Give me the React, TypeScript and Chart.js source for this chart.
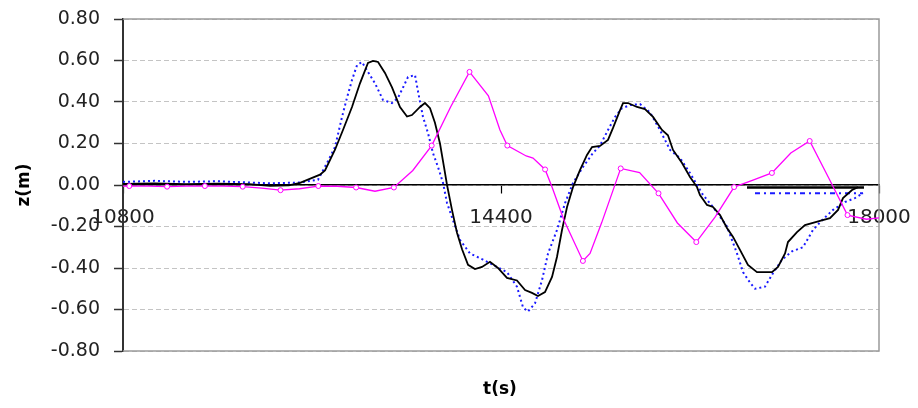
import React, { useEffect, useRef } from "react";
import { Chart, registerables } from "chart.js";

Chart.register(...registerables);

const xTicks = [10800, 14400, 18000];
const yTicks = [-0.8, -0.6, -0.4, -0.2, 0, 0.2, 0.4, 0.6, 0.8];
const yTickLabels = ["-0.80", "-0.60", "-0.40", "-0.20", "0.00", "0.20", "0.40", "0.60", "0.80"];

const blackT = [10800, 11100, 11400, 11700, 12000, 12200, 12380, 12486, 12676, 12724, 12819, 12895, 12981, 13057, 13133, 13181, 13229, 13295, 13362, 13438, 13505, 13552, 13629, 13676, 13724, 13771, 13819, 13857, 13886, 13933, 13981, 14029, 14086, 14152, 14219, 14295, 14371, 14457, 14552, 14629, 14695, 14752, 14819, 14886, 14933, 14981, 15029, 15086, 15152, 15219, 15267, 15343, 15419, 15467, 15533, 15562, 15610, 15695, 15771, 15848, 15933, 15990, 16038, 16124, 16200, 16267, 16295, 16362, 16419, 16486, 16552, 16610, 16676, 16752, 16838, 16981, 17038, 17105, 17133, 17219, 17295, 17438, 17533, 17610, 17657, 17743, 17800];
const blackZ = [0.005, 0.008, 0.004, 0.006, 0.004, -0.004, -0.002, 0.01, 0.05, 0.07, 0.17, 0.265, 0.376, 0.49, 0.588, 0.598, 0.593, 0.54, 0.47, 0.376, 0.33, 0.337, 0.376, 0.395, 0.37, 0.3, 0.2, 0.087, 0.0, -0.12, -0.23, -0.31, -0.385, -0.405, -0.395, -0.37, -0.4, -0.448, -0.46, -0.506, -0.52, -0.535, -0.516, -0.443, -0.347, -0.217, -0.106, -0.01, 0.072, 0.145, 0.183, 0.188, 0.217, 0.275, 0.36, 0.395, 0.395, 0.376, 0.366, 0.328, 0.265, 0.24, 0.169, 0.106, 0.039, -0.01, -0.048, -0.096, -0.106, -0.145, -0.207, -0.25, -0.313, -0.385, -0.42, -0.42, -0.395, -0.33, -0.275, -0.227, -0.193, -0.173, -0.16, -0.12, -0.063, -0.024, -0.01];

const blueT = [10800, 11100, 11400, 11700, 12000, 12200, 12486, 12657, 12743, 12819, 12886, 12933, 12981, 13029, 13076, 13133, 13200, 13276, 13362, 13419, 13467, 13514, 13581, 13610, 13657, 13705, 13752, 13800, 13848, 13886, 13943, 14010, 14105, 14229, 14362, 14457, 14552, 14610, 14657, 14724, 14790, 14848, 14933, 15010, 15086, 15181, 15276, 15343, 15419, 15486, 15552, 15629, 15724, 15819, 15914, 16010, 16105, 16200, 16324, 16419, 16552, 16648, 16705, 16771, 16819, 16914, 16990, 17076, 17171, 17276, 17371, 17457, 17562, 17676, 17771, 17848];
const blueZ = [0.015, 0.02, 0.015, 0.018, 0.012, 0.008, 0.012, 0.025, 0.106, 0.183, 0.328, 0.42, 0.506, 0.578, 0.593, 0.545, 0.49, 0.41, 0.395, 0.42, 0.47, 0.52, 0.53, 0.45, 0.328, 0.25, 0.154, 0.087, 0.01, -0.087, -0.17, -0.265, -0.33, -0.36, -0.395, -0.42, -0.49, -0.59, -0.61, -0.57, -0.46, -0.33, -0.217, -0.087, 0.01, 0.087, 0.154, 0.19, 0.265, 0.328, 0.37, 0.385, 0.39, 0.35, 0.265, 0.169, 0.13, 0.058, -0.048, -0.106, -0.2, -0.33, -0.42, -0.47, -0.5, -0.49, -0.425, -0.36, -0.32, -0.3, -0.217, -0.17, -0.12, -0.082, -0.063, -0.04];

const magentaT = [10800, 10860, 11040, 11220, 11400, 11580, 11760, 11940, 12120, 12300, 12480, 12660, 12840, 13020, 13200, 13380, 13560, 13740, 13920, 14100, 14280, 14390, 14460, 14640, 14705, 14820, 14886, 15000, 15180, 15248, 15360, 15540, 15720, 15900, 16080, 16260, 16440, 16620, 16800, 16980, 17160, 17340, 17520, 17700, 17880, 18000];
const magentaZ = [-0.005, -0.005, -0.005, -0.008, -0.005, -0.005, -0.005, -0.008, -0.015, -0.025, -0.018, -0.005, -0.006, -0.012, -0.03, -0.012, 0.07, 0.19, 0.376, 0.545, 0.43, 0.265, 0.19, 0.14, 0.13, 0.075, -0.01, -0.17, -0.366, -0.33, -0.18, 0.08, 0.06, -0.04, -0.183, -0.275, -0.154, -0.01, 0.024, 0.058, 0.154, 0.212, 0.035, -0.145, -0.165, -0.158];
const magentaMarkerStart = 10860;
const magentaMarkerStep = 360;

const blackFlatT = [16743, 17857];
const blackFlatZ = [-0.012, -0.012];
const blueFlatT = [16819, 17848];
const blueFlatZ = [-0.04, -0.04];

const toPoints = (t: number[], z: number[]) => t.map((v, i) => ({ x: v, y: z[i] }));

const FONT = "'DejaVu Sans', Verdana, sans-serif";

export default function App() {
  const ref = useRef<HTMLCanvasElement | null>(null);

  useEffect(() => {
    if (!ref.current) return;

    const framePlugin = {
      id: "frame",
      beforeDatasetsDraw(chart: any) {
        const { ctx, chartArea: a } = chart;
        ctx.save();
        ctx.strokeStyle = "#9a9a9a";
        ctx.lineWidth = 1.5;
        ctx.setLineDash([]);
        ctx.beginPath();
        ctx.moveTo(a.left, a.top);
        ctx.lineTo(a.right, a.top);
        ctx.lineTo(a.right, a.bottom);
        ctx.lineTo(a.left, a.bottom);
        ctx.stroke();
        ctx.restore();
      },
      afterDraw(chart: any) {
        const { ctx } = chart;
        ctx.save();
        ctx.fillStyle = "#000";
        ctx.font = `bold 17px ${FONT}`;
        ctx.textAlign = "center";
        ctx.textBaseline = "middle";
        ctx.fillText("t(s)", 500, 390);
        ctx.restore();
      },
    };

    const chart = new Chart(ref.current, {
      type: "line",
      data: {
        datasets: [
          {
            label: "magenta",
            data: toPoints(magentaT, magentaZ),
            borderColor: "#ff00ff",
            borderWidth: 1.3,
            pointRadius: (c: any) => {
              const t = magentaT[c.dataIndex];
              return t >= magentaMarkerStart && (t - magentaMarkerStart) % magentaMarkerStep === 0 ? 2.5 : 0;
            },
            pointBorderColor: "#ff00ff",
            pointBackgroundColor: "#ffffff",
            pointBorderWidth: 1,
            fill: false,
            order: 1,
          },
          {
            label: "black",
            data: toPoints(blackT, blackZ),
            borderColor: "#000000",
            borderWidth: 1.8,
            pointRadius: 0,
            fill: false,
            order: 2,
          },
          {
            label: "blackFlat",
            data: toPoints(blackFlatT, blackFlatZ),
            borderColor: "#000000",
            borderWidth: 2.5,
            pointRadius: 0,
            fill: false,
            order: 2,
          },
          {
            label: "blue",
            data: toPoints(blueT, blueZ),
            borderColor: "#1a1aff",
            borderWidth: 2,
            borderDash: [2, 3],
            pointRadius: 0,
            fill: false,
            order: 3,
          },
          {
            label: "blueFlat",
            data: toPoints(blueFlatT, blueFlatZ),
            borderColor: "#1a1aff",
            borderWidth: 2,
            borderDash: [5, 4, 2, 4],
            pointRadius: 0,
            fill: false,
            order: 3,
          },
        ],
      },
      options: {
        responsive: false,
        animation: false,
        devicePixelRatio: 1,
        layout: { autoPadding: false, padding: { left: 0, right: 39, top: 19, bottom: 57 } },
        plugins: { legend: { display: false }, tooltip: { enabled: false } },
        scales: {
          x: {
            type: "linear",
            min: 10800,
            max: 18000,
            position: { y: 0 } as any,
            afterBuildTicks: (s: any) => {
              s.ticks = xTicks.map((v) => ({ value: v }));
            },
            afterFit: (s: any) => {
              s.paddingLeft = 0;
              s.paddingRight = 0;
              s.paddingTop = 0;
              s.paddingBottom = 0;
            },
            grid: {
              drawOnChartArea: false,
              drawTicks: true,
              tickLength: 8,
              tickColor: "#000",
              tickWidth: 1.2,
              color: "#000",
            },
            border: { display: true, color: "#000", width: 1.5 },
            ticks: {
              padding: 13,
              maxRotation: 0,
              autoSkip: false,
              color: "#222",
              font: { family: FONT, size: 20 },
              callback: (v: any) => String(v),
            },
          },
          y: {
            type: "linear",
            min: -0.8,
            max: 0.8,
            afterBuildTicks: (s: any) => {
              s.ticks = yTicks.map((v) => ({ value: v }));
            },
            afterFit: (s: any) => {
              s.width = 123;
              s.paddingLeft = 0;
              s.paddingRight = 0;
              s.paddingTop = 0;
              s.paddingBottom = 0;
            },
            grid: {
              color: "#c4c4c4",
              lineWidth: 1,
              drawTicks: true,
              tickLength: 9,
              tickColor: "#333",
              tickWidth: 1.5,
              tickBorderDash: [],
            },
            border: { display: true, color: "#333", width: 2, dash: [5, 3] },
            ticks: {
              padding: 14,
              color: "#222",
              font: { family: FONT, size: 19 },
              callback: (v: any) => {
                const i = yTicks.findIndex((t) => Math.abs(t - Number(v)) < 1e-6);
                return i >= 0 ? yTickLabels[i] : "";
              },
            },
            title: {
              display: true,
              text: "z(m)",
              color: "#000",
              font: { family: FONT, size: 17, weight: "bold" },
              padding: { top: 14, bottom: 0 },
            },
          },
        },
      },
      plugins: [framePlugin],
    } as any);

    return () => chart.destroy();
  }, []);

  return (
    <div style={{ position: "fixed", left: 0, top: 0, width: 918, height: 408, background: "#fff" }}>
      <canvas ref={ref} width={918} height={408} />
    </div>
  );
}
